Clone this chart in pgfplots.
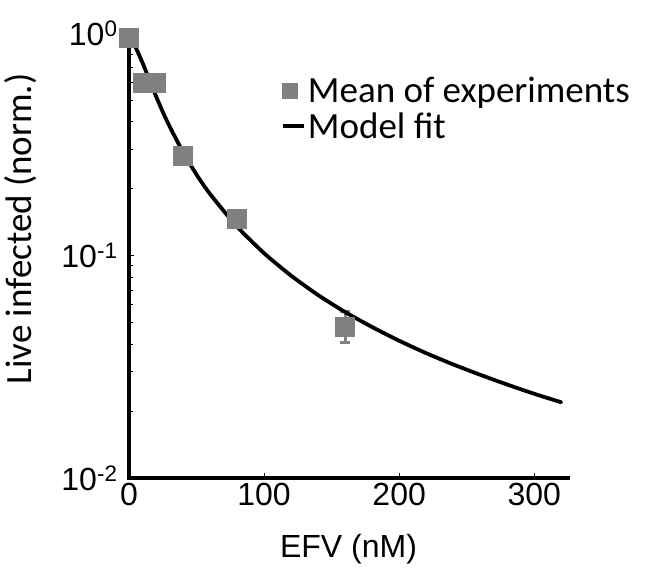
\documentclass[border=0pt]{standalone}
\usepackage{fontspec}
\setmainfont{Liberation Sans}
\newfontfamily\carlito{Carlito}
\usepackage{pgfplots}
\pgfplotsset{compat=1.18}
\definecolor{markgray}{RGB}{128,128,128}
\begin{document}
\begin{tikzpicture}
\begin{axis}[
  at={(0,0)}, anchor=south west,
  scale only axis, width=439pt, height=445pt,
  xmin=0, xmax=325, ymin=0.01, ymax=1,
  ymode=log,
  axis x line*=bottom, axis y line*=left,
  axis line style={line width=4pt, line cap=rect},
  xtick={0,100,200,300},
  ytick={0.01,0.1,1},
  yticklabels={10\textsuperscript{-2},10\textsuperscript{-1},10\textsuperscript{0}},
  /pgf/number format/assume math mode=true,
  tick align=inside,
  major tick length=5pt, minor tick length=4pt,
  tick style={black, line width=0.8pt},
  ticklabel style={font=\fontsize{32}{36}\selectfont},
  xticklabel style={yshift=-2pt},
  yticklabel style={xshift=-8pt},
  xlabel={EFV (nM)},
  xlabel style={font=\fontsize{32}{36}\selectfont, at={(axis description cs:0.5,-0.16)}, anchor=center},
  ylabel={Live infected (norm.)},
  ylabel style={font=\carlito\fontsize{37}{40}\selectfont, at={(axis description cs:-0.246,0.56)}, anchor=center},
  legend style={draw=none, fill=none, at={(axis description cs:0.345,0.905)}, anchor=north west,
    font=\carlito\fontsize{37}{40}\selectfont, row sep=4pt, inner sep=0pt,
    /tikz/every even column/.append style={column sep=12pt}},
  legend cell align=left,
  clip=false,
]
\addplot[only marks, mark=square*, mark size=9.5pt, color=markgray,
  legend image post style={mark size=7.5pt},
  error bars/.cd, y dir=both, y explicit,
  error bar style={line width=3pt, markgray},
  error mark options={rotate=90, mark size=5pt, line width=3pt, markgray}]
coordinates {
  (0,0.95) +- (0,0.01)
  (10,0.60) +- (0,0.02)
  (20,0.60) +- (0,0.02)
  (40,0.28) +- (0,0.01)
  (80,0.147) +- (0,0.006)
  (160,0.048) += (0,0.008) -= (0,0.0075)
};
\addlegendentry{Mean of experiments}
\addplot[black, line width=3.8pt, line cap=round, line join=round, smooth, tension=0.4,
  legend image code/.code={\draw[line width=4pt, line cap=butt] (0.05cm,0cm) -- (0.8cm,0cm);}] coordinates {
  (0,0.95) (2,0.93) (5,0.86) (10,0.735) (15,0.619) (20,0.520) (25,0.442) (30,0.381)
  (40,0.2915) (50,0.231) (60,0.189) (80,0.1348) (100,0.1024) (120,0.0812)
  (140,0.0664) (160,0.0557) (180,0.0477) (200,0.0414) (220,0.0364) (240,0.0324)
  (260,0.0291) (280,0.0263) (300,0.0239) (320,0.0219)
};
\addlegendentry{Model fit}
\end{axis}
\pgfresetboundingbox
\path[use as bounding box] (-129pt,-92pt) rectangle (519pt,478pt);
\end{tikzpicture}
\end{document}
